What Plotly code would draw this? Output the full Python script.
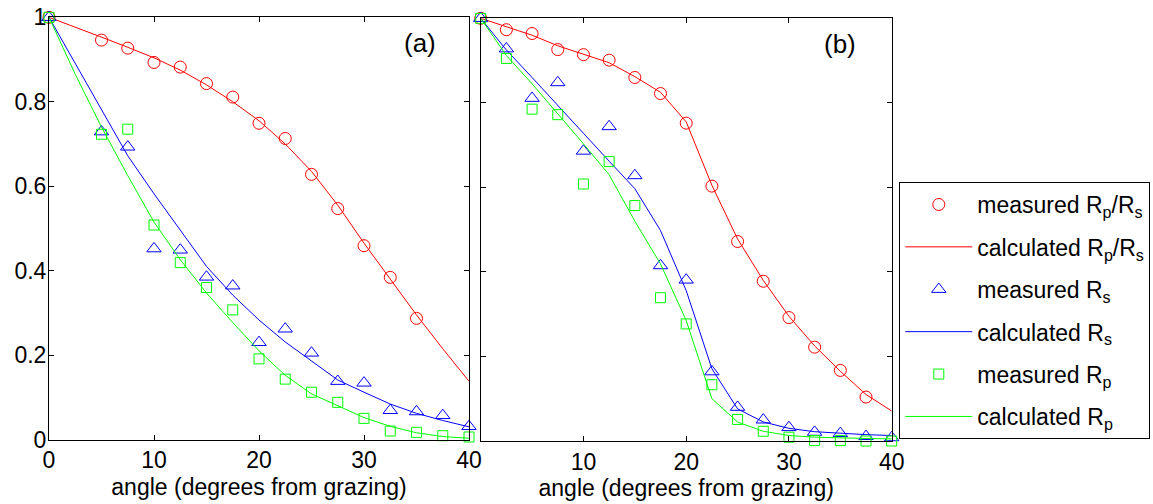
import plotly.graph_objects as go

# ---------------- data ----------------
angles = [0, 2.5, 5, 7.5, 10, 12.5, 15, 17.5, 20, 22.5, 25, 27.5, 30, 32.5, 35, 37.5, 40]

# panel (a)
a_meas_ratio = [1.0, None, 0.946, 0.927, 0.893, 0.882, 0.843, 0.811, 0.749, 0.713, 0.628, 0.547, 0.459, 0.384, 0.287, None, None]
a_calc_ratio = [1.0, 0.977, 0.953, 0.929, 0.904, 0.875, 0.840, 0.800, 0.755, 0.700, 0.635, 0.555, 0.465, 0.380, 0.295, 0.215, 0.138]
a_meas_rs = [1.0, None, 0.729, 0.693, 0.452, 0.449, 0.385, 0.364, 0.230, 0.262, 0.205, 0.138, 0.134, 0.069, 0.066, 0.057, 0.031]
a_calc_rs = [1.0, 0.890, 0.780, 0.672, 0.582, 0.497, 0.410, 0.342, 0.283, 0.231, 0.185, 0.141, 0.112, 0.084, 0.062, 0.045, 0.030]
a_meas_rp = [1.0, None, 0.723, 0.735, 0.508, 0.419, 0.360, 0.307, 0.191, 0.143, 0.112, 0.088, 0.050, 0.020, 0.017, 0.009, 0.006]
a_calc_rp = [1.0, 0.865, 0.740, 0.625, 0.515, 0.426, 0.347, 0.277, 0.210, 0.152, 0.108, 0.080, 0.052, 0.031, 0.016, 0.007, 0.003]

# panel (b)
b_meas_ratio = [1.0, 0.973, 0.964, 0.926, 0.914, 0.901, 0.860, 0.822, 0.752, 0.603, 0.472, 0.378, 0.292, 0.222, 0.167, 0.104, None]
b_calc_ratio = [1.0, 0.980, 0.960, 0.935, 0.915, 0.895, 0.862, 0.825, 0.755, 0.605, 0.478, 0.380, 0.295, 0.225, 0.165, 0.110, 0.071]
b_meas_rs = [1.0, 0.928, 0.811, 0.848, 0.686, 0.744, 0.628, 0.415, 0.381, 0.164, 0.080, 0.050, 0.032, 0.021, 0.018, 0.011, 0.008]
b_calc_rs = [1.0, 0.925, 0.860, 0.795, 0.728, 0.662, 0.597, 0.498, 0.356, 0.171, 0.076, 0.045, 0.030, 0.022, 0.018, 0.015, 0.013]
b_meas_rp = [1.0, 0.905, 0.785, 0.772, 0.608, 0.661, 0.557, 0.339, 0.277, 0.133, 0.051, 0.023, 0.009, 0.001, 0.001, 0.0, 0.0]
b_calc_rp = [1.0, 0.912, 0.845, 0.775, 0.703, 0.630, 0.520, 0.419, 0.285, 0.100, 0.045, 0.023, 0.013, 0.009, 0.007, 0.006, 0.005]

x_ticks = [0, 10, 20, 30, 40]
x_ticktext_a = ["0", "10", "20", "30", "40"]
x_ticktext_b = [" ", "10", "20", "30", "40"]
y_ticks = [0, 0.2, 0.4, 0.6, 0.8, 1]
y_ticktext = ["0", "0.2", "0.4", "0.6", "0.8", "1"]

names = ["measured R<sub>p</sub>/R<sub>s</sub>", "calculated R<sub>p</sub>/R<sub>s</sub>",
         "measured R<sub>s</sub>", "calculated R<sub>s</sub>",
         "measured R<sub>p</sub>", "calculated R<sub>p</sub>"]
panel_labels = ["(a)", "(b)"]

RED, BLUE, GREEN = "#FF0000", "#0000FF", "#00FF00"
FONT = "Liberation Sans, Arial, Helvetica, sans-serif"

fig = go.Figure()

def add_panel(xa, ya, ratio_m, ratio_c, rs_m, rs_c, rp_m, rp_c, show):
    specs = [
        (ratio_c, "lines", RED, None, 1),
        (ratio_m, "markers", RED, "circle-open", 0),
        (rs_c, "lines", BLUE, None, 3),
        (rs_m, "markers", BLUE, "triangle-up-open", 2),
        (rp_c, "lines", GREEN, None, 5),
        (rp_m, "markers", GREEN, "square-open", 4),
    ]
    sizes = {"circle-open": 12, "triangle-up-open": 12.5, "square-open": 10}
    for vals, mode, col, sym, idx in specs:
        kw = dict(x=angles, y=vals, mode=mode, xaxis=xa, yaxis=ya,
                  name=names[idx], showlegend=show, legendgroup="g%d" % idx,
                  legendrank=idx + 1, cliponaxis=False, connectgaps=False)
        if mode == "lines":
            kw["line"] = dict(color=col, width=1)
        else:
            kw["marker"] = dict(symbol=sym, size=sizes[sym], color=col,
                                line=dict(color=col, width=1))
        fig.add_trace(go.Scatter(**kw))

add_panel("x", "y", a_meas_ratio, a_calc_ratio, a_meas_rs, a_calc_rs, a_meas_rp, a_calc_rp, False)
add_panel("x2", "y2", b_meas_ratio, b_calc_ratio, b_meas_rs, b_calc_rs, b_meas_rp, b_calc_rp, True)

W, H = 1153, 504
axis_common = dict(showline=True, linecolor="black", linewidth=1, mirror="ticks",
                   ticks="inside", ticklen=5, tickcolor="black", showgrid=False,
                   zeroline=False, tickfont=dict(family=FONT, size=23, color="black"))

fig.update_layout(
    width=W, height=H,
    paper_bgcolor="white", plot_bgcolor="white",
    margin=dict(l=0, r=0, t=0, b=0, autoexpand=False),
    font=dict(family=FONT, size=23, color="black"),
    hovermode=False,
    xaxis=dict(domain=[49 / W, 469 / W], range=[0, 40], tickvals=x_ticks,
               ticktext=x_ticktext_a, anchor="y",
               title=dict(text="angle (degrees from grazing)", standoff=6,
                          font=dict(family=FONT, size=23)), **axis_common),
    yaxis=dict(domain=[1 - 439.5 / H, 1 - 17.3 / H], range=[0, 1], tickvals=y_ticks,
               ticktext=y_ticktext, anchor="x", ticklabelstandoff=-3, **axis_common),
    xaxis2=dict(domain=[480.7 / W, 891.7 / W], range=[0, 40], tickvals=x_ticks,
                ticktext=x_ticktext_b, anchor="y2",
                title=dict(text="angle (degrees from grazing)", standoff=6,
                           font=dict(family=FONT, size=23)), **axis_common),
    yaxis2=dict(domain=[1 - 441 / H, 1 - 18.3 / H], range=[0, 1], tickvals=y_ticks,
                showticklabels=False, anchor="x2", **axis_common),
    legend=dict(x=899.3 / W, y=1 - 182 / H, xanchor="left", yanchor="top",
                bordercolor="black", borderwidth=1, bgcolor="white",
                font=dict(family=FONT, size=23, color="black"),
                traceorder="grouped", tracegroupgap=9.5, itemwidth=67),
    showlegend=True,
)

fig.add_annotation(x=35.3, y=0.94, xref="x", yref="y", text=panel_labels[0],
                   showarrow=False, font=dict(family=FONT, size=26, color="black"))
fig.add_annotation(x=35.0, y=0.94, xref="x2", yref="y2", text=panel_labels[1],
                   showarrow=False, font=dict(family=FONT, size=26, color="black"))

fig.write_html("out.html", config={"displayModeBar": False, "staticPlot": False},
               post_script="document.body.style.margin='0';document.body.style.padding='0';")
